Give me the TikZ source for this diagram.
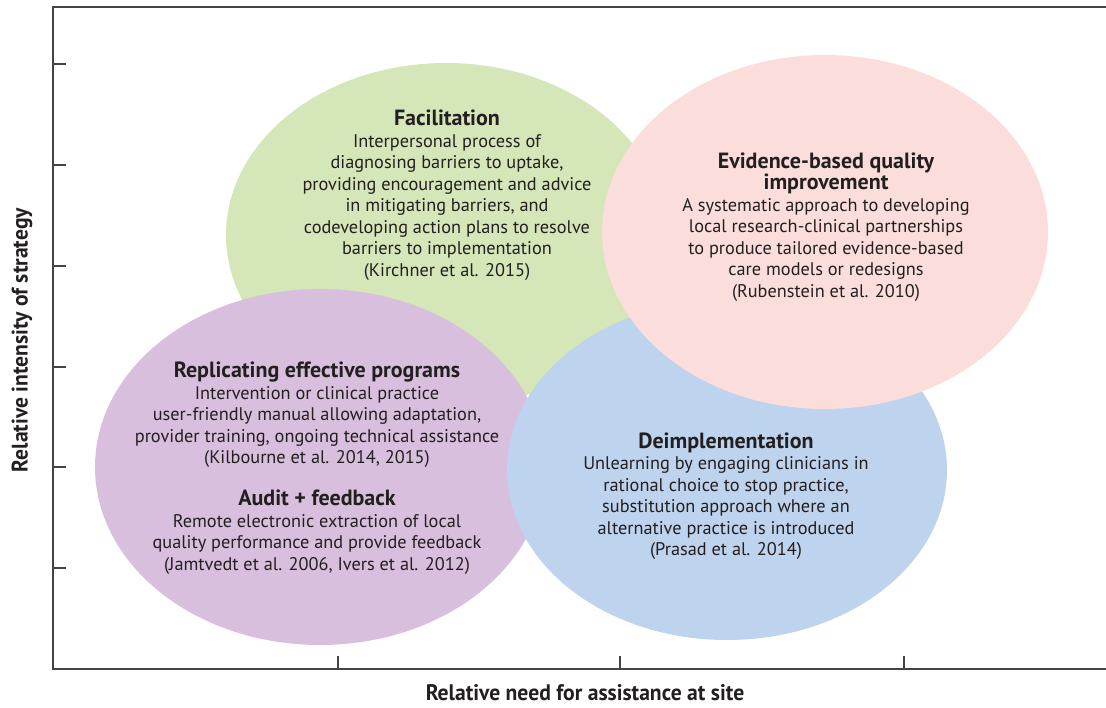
\documentclass[tikz,border=0pt]{standalone}
\usepackage{fontspec}
\setmainfont{PT Sans}
\newfontfamily\axisfont[FakeStretch=0.96]{PT Sans}
\usetikzlibrary{positioning}
\definecolor{facilgreen}{RGB}{213,230,185}
\definecolor{ebqipink}{RGB}{251,222,219}
\definecolor{replpurple}{RGB}{216,191,221}
\definecolor{deimpblue}{RGB}{190,211,237}
\definecolor{axisgray}{RGB}{68,68,68}
\definecolor{inkgray}{RGB}{35,31,32}

\begin{document}
\begin{tikzpicture}[x=1pt,y=-1pt,
    body/.style={align=center,inner sep=0pt,text=inkgray,
        font={\fontsize{18.3}{21.5}\selectfont}},
    axislabel/.style={text=inkgray,inner sep=0pt,
        font={\fontsize{22.5}{24}\selectfont\axisfont\bfseries}},
    ]
    \useasboundingbox (0,0) rectangle (1106,707);
    \newcommand{\hd}[1]{{\fontsize{22}{21.5}\selectfont\bfseries #1}}

    % Bubbles, back to front
    \fill[facilgreen] (446,235) ellipse [x radius=220, y radius=172];
    \fill[replpurple] (320,467) ellipse [x radius=225, y radius=178];
    \fill[deimpblue] (727,470) ellipse [x radius=220, y radius=170];
    \fill[ebqipink] (825,232) ellipse [x radius=223, y radius=177];

    % Axes
    \draw[axisgray,line width=1.5pt] (1106,7) -- (53,7) -- (53,669) -- (1106,669);
    \foreach \y in {64,165,266,367,467,568}
        \draw[axisgray,line width=1.5pt] (53,\y) -- (66,\y);
    \foreach \x in {338,620,904}
        \draw[axisgray,line width=1.5pt] (\x,669) -- (\x,656);

    % Texts
    \node[body] (facil) at (447,195) {\hd{Facilitation}\\
        Interpersonal process of\\
        diagnosing barriers to uptake,\\
        providing encouragement and advice\\
        in mitigating barriers, and\\
        codeveloping action plans to resolve\\
        barriers to implementation\\
        (Kirchner et al. 2015)};
    \node[body] (ebqi) at (826,227) {\hd{Evidence-based quality}\\
        \hd{improvement}\\
        A systematic approach to developing\\
        local research-clinical partnerships\\
        to produce tailored evidence-based\\
        care models or redesigns\\
        (Rubenstein et al. 2010)};
    \node[body] (repl) at (317,415) {\hd{Replicating effective programs}\\
        Intervention or clinical practice\\
        user-friendly manual allowing adaptation,\\
        provider training, ongoing technical assistance\\
        (Kilbourne et al. 2014, 2015)};
    \node[body] (audit) at (317,532) {\hd{Audit + feedback}\\
        Remote electronic extraction of local\\
        quality performance and provide feedback\\
        (Jamtvedt et al. 2006, Ivers et al. 2012)};
    \node[body] (deimp) at (726,496) {\hd{Deimplementation}\\
        Unlearning by engaging clinicians in\\
        rational choice to stop practice,\\
        substitution approach where an\\
        alternative practice is introduced\\
        (Prasad et al. 2014)};

    % Axis labels
    \node[axislabel,rotate=90] (ylab) at (22,340) {Relative intensity of strategy};
    \node[axislabel] (xlab) at (585,693) {Relative need for assistance at site};
\end{tikzpicture}
\end{document}
